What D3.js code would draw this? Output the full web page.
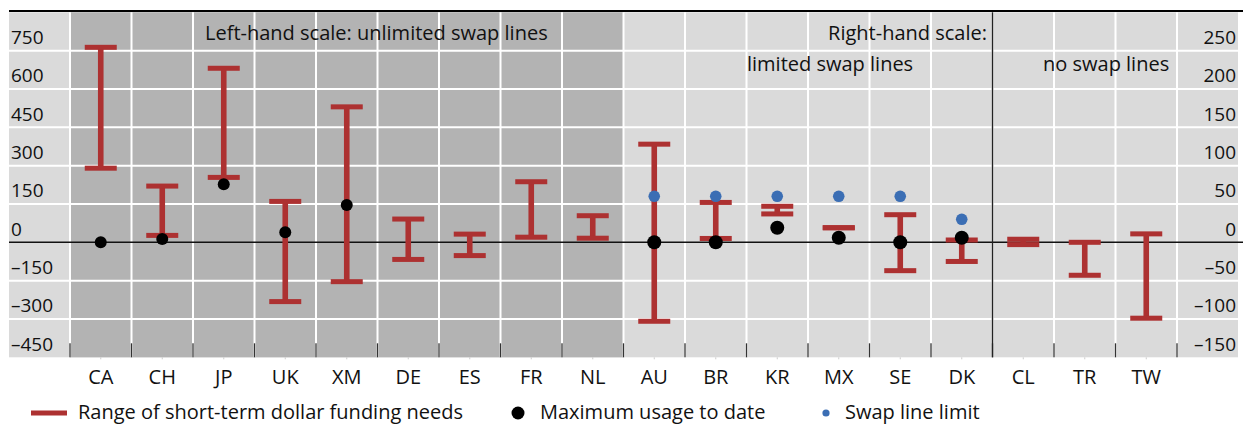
<!DOCTYPE html>
<html>
<head>
<meta charset="utf-8">
<script src="https://cdn.jsdelivr.net/npm/d3@7"></script>
<style>
  body { margin: 0; background: #fff; }
  svg text { font-family: "Open Sans", "Noto Sans", sans-serif; fill: #111; }
</style>
</head>
<body>
<div id="container"></div>
<script>
// categories, left-hand group first
const countries = ["CA", "CH", "JP", "UK", "XM", "DE", "ES", "FR", "NL",
                   "AU", "BR", "KR", "MX", "SE", "DK", "CL", "TR", "TW"];
const unlimited = ["CA", "CH", "JP", "UK", "XM", "DE", "ES", "FR", "NL"]; // left-hand scale
const noSwap = ["CL", "TR", "TW"];
// range of short-term dollar funding needs (high / low)
const needHigh = [763, 220, 681, 160, 530, 91, 32, 237, 104, 128, 52, 47, 19, 36, 3, 4, 0, 11];
const needLow  = [290, 27, 254, -232, -154, -67, -52, 20, 16, -103, 5, 37, 19, -37, -25, -3, -43, -99];
// maximum usage to date
const usageCountries = ["CA", "CH", "JP", "UK", "XM", "AU", "BR", "KR", "MX", "SE", "DK"];
const usage = [0, 13, 227, 39, 146, 0, 0, 19, 6, 0, 6];
// swap line limit
const limitCountries = ["AU", "BR", "KR", "MX", "SE", "DK"];
const limit = [60, 60, 60, 60, 60, 30];
const leftTicks = [-450, -300, -150, 0, 150, 300, 450, 600, 750];
const rightTicks = [-150, -100, -50, 0, 50, 100, 150, 200, 250];

const width = 1243, height = 425;
const plotLeft = 9, plotRight = 1238, plotTop = 12.3, plotBottom = 357.3;
const red = "#ad3131", blue = "#3b6eb4";
const fs = 20, numFs = 19;

const svg = d3.select("#container").append("svg")
    .attr("width", width)
    .attr("height", height)
    .attr("viewBox", [0, 0, width, height]);

const x = d3.scaleBand().domain(countries).range([70, 1177]).padding(0);
const yL = d3.scaleLinear().domain([-450, 900]).range([plotBottom, plotTop]);
const yR = d3.scaleLinear().domain([-150, 300]).range([plotBottom, plotTop]);
const yFor = c => unlimited.includes(c) ? yL : yR;

// backgrounds
svg.append("rect")
    .attr("x", plotLeft).attr("y", plotTop)
    .attr("width", plotRight - plotLeft).attr("height", plotBottom - plotTop)
    .attr("fill", "#dadada");
svg.append("rect")
    .attr("x", x(unlimited[0])).attr("y", plotTop)
    .attr("width", x.bandwidth() * unlimited.length).attr("height", plotBottom - plotTop)
    .attr("fill", "#b3b3b3");

// grid
const grid = svg.append("g").attr("stroke", "#fff").attr("stroke-width", 2);
grid.selectAll(".h")
    .data(leftTicks.filter(d => d !== 0 && d !== -450))
    .join("line")
    .attr("x1", plotLeft).attr("x2", plotRight)
    .attr("y1", d => yL(d)).attr("y2", d => yL(d));
grid.selectAll(".v")
    .data(countries.map(c => x(c)).concat([x.range()[1]]))
    .join("line")
    .attr("x1", d => d).attr("x2", d => d)
    .attr("y1", plotTop).attr("y2", plotBottom);

// boundary ticks at bottom
svg.append("g").attr("stroke", "#333").attr("stroke-width", 1.3)
    .selectAll("line")
    .data(countries.map(c => x(c)).concat([x.range()[1]]))
    .join("line")
    .attr("x1", d => d).attr("x2", d => d)
    .attr("y1", plotBottom - 14).attr("y2", plotBottom);

// zero line, divider, top rule
svg.append("line")
    .attr("x1", plotLeft).attr("x2", width)
    .attr("y1", yL(0)).attr("y2", yL(0))
    .attr("stroke", "#111").attr("stroke-width", 1.5);
svg.append("line")
    .attr("x1", x(noSwap[0])).attr("x2", x(noSwap[0]))
    .attr("y1", plotTop).attr("y2", plotBottom)
    .attr("stroke", "#222").attr("stroke-width", 1.4);
svg.append("line")
    .attr("x1", plotLeft).attr("x2", width)
    .attr("y1", 11).attr("y2", 11)
    .attr("stroke", "#000").attr("stroke-width", 2.2);

// axes
const fmt = d => d < 0 ? "\u2013" + Math.abs(d) : String(d);
svg.append("g")
    .attr("transform", `translate(11,0)`)
    .call(d3.axisRight(yL).tickValues(leftTicks).tickFormat(fmt).tickSize(0).tickPadding(0))
    .call(g => g.select(".domain").remove())
    .call(g => g.selectAll("text").attr("dy", -7).attr("font-size", numFs).attr("fill", "#111"));
svg.append("g")
    .attr("transform", `translate(1236,0)`)
    .call(d3.axisLeft(yR).tickValues(rightTicks).tickFormat(fmt).tickSize(0).tickPadding(0))
    .call(g => g.select(".domain").remove())
    .call(g => g.selectAll("text").attr("dy", -7).attr("font-size", numFs).attr("fill", "#111"));
svg.append("g")
    .attr("transform", `translate(0,${plotBottom})`)
    .call(d3.axisBottom(x).tickSize(2).tickPadding(10.5))
    .call(g => g.select(".domain").remove())
    .call(g => g.selectAll(".tick line").attr("stroke", "#ccc"))
    .call(g => g.selectAll("text").attr("font-size", fs).attr("fill", "#111"));

// section labels
const note = (tx, ty, t, anchor) => svg.append("text")
    .attr("x", tx).attr("y", ty).attr("font-size", fs)
    .attr("text-anchor", anchor).text(t);
note(205, 40, "Left-hand scale: unlimited swap lines", "start");
note(987, 40, "Right-hand scale:", "end");
note(747, 71, "limited swap lines", "start");
note(1043, 71, "no swap lines", "start");

// ranges
const bars = svg.append("g").attr("fill", red).attr("stroke", "none");
const capW = 32, capH = 5;
countries.forEach((c, i) => {
    const cx = x(c) + x.bandwidth() / 2, y = yFor(c);
    bars.append("rect")
        .attr("x", cx - 2.8).attr("width", 5.6)
        .attr("y", y(needHigh[i])).attr("height", Math.max(0, y(needLow[i]) - y(needHigh[i])));
    [needHigh[i], needLow[i]].forEach(v => bars.append("rect")
        .attr("x", cx - capW / 2).attr("width", capW)
        .attr("y", y(v) - capH / 2).attr("height", capH));
});

// swap line limits
svg.append("g").selectAll("circle")
    .data(limitCountries)
    .join("circle")
    .attr("cx", c => x(c) + x.bandwidth() / 2)
    .attr("cy", (c, i) => yR(limit[i]))
    .attr("r", 5.8)
    .attr("fill", blue);

// maximum usage
svg.append("g").selectAll("circle")
    .data(usageCountries)
    .join("circle")
    .attr("cx", c => x(c) + x.bandwidth() / 2)
    .attr("cy", (c, i) => yFor(c)(usage[i]))
    .attr("r", c => unlimited.includes(c) ? 6 : 7)
    .attr("fill", "#000");

// legend
const ly = 419;
const lg = svg.append("g");
lg.append("rect").attr("x", 31).attr("y", ly - 8.5).attr("width", 36).attr("height", 5).attr("fill", red);
lg.append("text").attr("x", 78).attr("y", ly).attr("font-size", fs)
    .text("Range of short-term dollar funding needs");
lg.append("circle").attr("cx", 518).attr("cy", ly - 6).attr("r", 6.5).attr("fill", "#000");
lg.append("text").attr("x", 540).attr("y", ly).attr("font-size", fs).text("Maximum usage to date");
lg.append("circle").attr("cx", 826).attr("cy", ly - 6).attr("r", 3.6).attr("fill", blue);
lg.append("text").attr("x", 845).attr("y", ly).attr("font-size", fs).text("Swap line limit");
</script>
</body>
</html>
